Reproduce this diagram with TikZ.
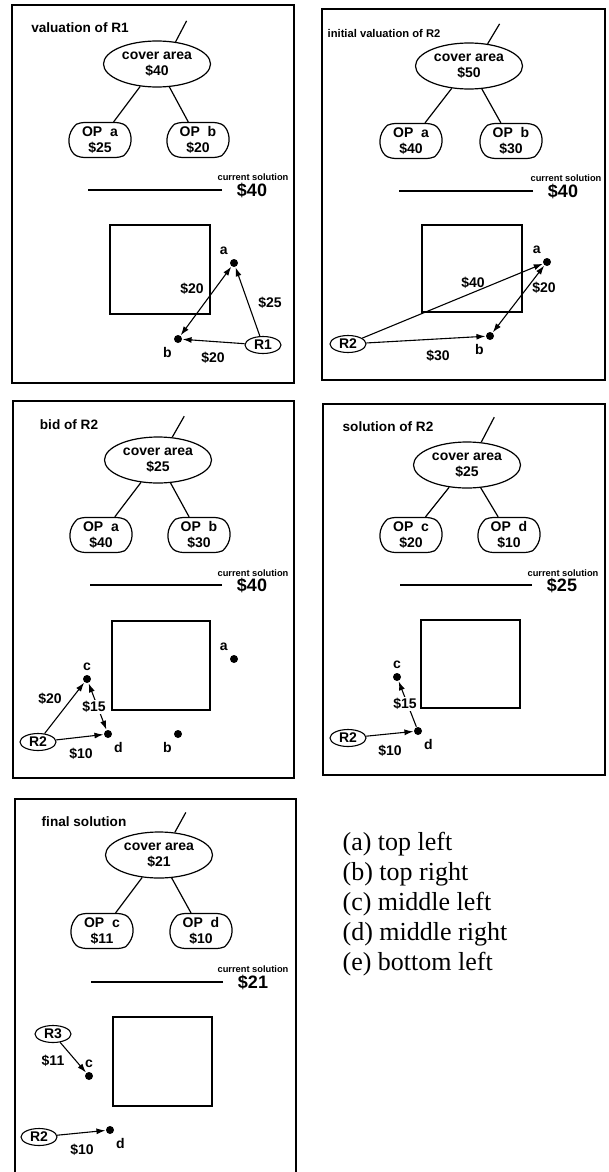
\documentclass[tikz,border=0pt]{standalone}
\usepackage{fontspec}
\setmainfont{Liberation Sans}
\newfontfamily\legendfont{Liberation Serif}
\usetikzlibrary{shapes,arrows.meta}

\tikzset{
  area/.style={draw, ellipse, line width=1.2pt, minimum width=107pt, minimum height=46pt, inner sep=0pt, align=center},
  opbox/.style={draw, rounded rectangle, rounded rectangle arc length=130, rounded corners=4pt, line width=1.2pt, minimum width=64pt, minimum height=35pt, inner sep=1pt, align=center},
  rnode/.style={draw, ellipse, line width=1.1pt, minimum width=36pt, minimum height=17pt, inner sep=0pt},
  dot/.style={circle, fill, inner sep=0pt, minimum size=8pt},
  cur/.style={font=\bfseries\fontsize{9.3}{11}\selectfont},
  sol/.style={font=\bfseries\fontsize{18}{20}\selectfont},
  ttl/.style={font=\bfseries\fontsize{13.6}{16}\selectfont},
  link/.style={line width=1.1pt, ->},
  legend/.style={anchor=base west, inner sep=0pt, font=\legendfont\fontsize{26}{30}\selectfont}
}

\begin{document}
\begin{tikzpicture}[x=1pt, y=-1pt, line width=1.2pt, >={Latex[length=9pt,width=6pt]},
    every node/.append style={font=\bfseries\fontsize{14}{16.5}\selectfont}]
  \useasboundingbox (0,0) rectangle (608,1172);

  % (a) valuation of R1
  \draw[line width=1.4pt] (12,5) rectangle (294,383);
  \node[ttl] (t1) at (80,28) {valuation of R1};
  \node[area] (ca1) at (157,64) {cover area\\\$40};
  \draw (ca1.50) -- ++(11,-21);
  \node[opbox] (opa1) at (100,140) {OP\ \ a\\\$25};
  \node[opbox] (opb1) at (198,140) {OP\ \ b\\\$20};
  \draw (ca1) -- (opa1);
  \draw (ca1) -- (opb1);
  \node[cur] (cs1) at (253,177) {current solution};
  \node[sol] (sol1) at (252,190) {\$40};
  \draw ([xshift=-11pt]sol1.west) -- ++(-134,0);
  \draw (110,225) rectangle (210,314);
  \node[dot, label=120:a] (a1) at (234,263) {};
  \node[dot, label=240:b] (b1) at (178,339) {};
  \node[rnode] (r1) at (263,345) {R1};
  \draw[link, <->] (a1) -- (b1);
  \draw[link] (r1) -- (a1);
  \draw[link] (r1) -- (b1);
  \node at (192,289) {\$20};
  \node at (270,303) {\$25};
  \node at (213,358) {\$20};

  % (b) initial valuation of R2
  \draw[line width=1.4pt] (322,9) rectangle (605,380);
  \node[ttl, font=\bfseries\fontsize{11.2}{13}\selectfont] (t2) at (384,33) {initial valuation of R2};
  \node[area] (ca2) at (469,66) {cover area\\\$50};
  \draw (ca2.50) -- ++(12,-20);
  \node[opbox] (opa2) at (411,141) {OP\ \ a\\\$40};
  \node[opbox] (opb2) at (511,141) {OP\ \ b\\\$30};
  \draw (ca2) -- (opa2);
  \draw (ca2) -- (opb2);
  \node[cur] (cs2) at (566,178) {current solution};
  \node[sol] (sol2) at (563,191) {\$40};
  \draw ([xshift=-11pt]sol2.west) -- ++(-134,0);
  \draw (422,225) rectangle (522,312);
  \node[dot, label=120:a] (a2) at (547,262) {};
  \node[dot, label=240:b] (b2) at (490,336) {};
  \node[rnode] (r2) at (348,344) {R2};
  \draw[link] (r2) -- (a2);
  \draw[link, <->] (a2) -- (b2);
  \draw[link] (r2) -- (b2);
  \node at (473,283) {\$40};
  \node at (544,288) {\$20};
  \node at (438,356) {\$30};

  % (c) bid of R2
  \draw[line width=1.4pt] (13,401) rectangle (294,778);
  \node[ttl] (t3) at (69,425) {bid of R2};
  \node[area] (ca3) at (158,460) {cover area\\\$25};
  \draw (ca3.58) -- ++(12,-21);
  \node[opbox] (opa3) at (101,535) {OP\ \ a\\\$40};
  \node[opbox] (opb3) at (199,535) {OP\ \ b\\\$30};
  \draw (ca3) -- (opa3);
  \draw (ca3) -- (opb3);
  \node[cur] (cs3) at (253,573) {current solution};
  \node[sol] (sol3) at (252,585) {\$40};
  \draw ([xshift=-11pt]sol3.west) -- ++(-132,0);
  \draw (112,621) rectangle (210,710);
  \node[dot, label=120:a] (a3) at (234,659) {};
  \node[dot, label=240:b] (b3) at (178,734) {};
  \node[dot, label=90:c] (c3) at (87,679) {};
  \node[dot, label=300:d] (d3) at (108,734) {};
  \node[rnode] (r3) at (38,742) {R2};
  \draw[link] (r3) -- (c3);
  \draw[link] (r3) -- (d3);
  \draw[link, <->] (c3) -- (d3);
  \node[fill=white, inner sep=1pt] at (94,707) {\$15};
  \node at (50,699) {\$20};
  \node at (81,754) {\$10};

  % (d) solution of R2
  \draw[line width=1.4pt] (323,404) rectangle (605,775);
  \node[ttl] (t4) at (388,427) {solution of R2};
  \node[area] (ca4) at (467,465) {cover area\\\$25};
  \draw (ca4.58) -- ++(13,-25);
  \node[opbox] (opc4) at (411,535) {OP\ \ c\\\$20};
  \node[opbox] (opd4) at (509,535) {OP\ \ d\\\$10};
  \draw (ca4) -- (opc4);
  \draw (ca4) -- (opd4);
  \node[cur] (cs4) at (563,573) {current solution};
  \node[sol] (sol4) at (562,585) {\$25};
  \draw ([xshift=-11pt]sol4.west) -- ++(-132,0);
  \draw (421,620) rectangle (520,708);
  \node[dot, label=90:c] (c4) at (397,677) {};
  \node[dot, label=300:d] (d4) at (418,731) {};
  \node[rnode] (r4) at (348,738) {R2};
  \draw[link] (d4) -- (c4);
  \node[fill=white, inner sep=1pt] at (405,704) {\$15};
  \draw[link] (r4) -- (d4);
  \node at (390,751) {\$10};

  % (e) final solution
  \draw[line width=1.4pt] (15,799) rectangle (296,1180);
  \node[ttl] (t5) at (84,822) {final solution};
  \node[area] (ca5) at (159,855) {cover area\\\$21};
  \draw (ca5.55) -- ++(11,-20);
  \node[opbox] (opc5) at (102,931) {OP\ \ c\\\$11};
  \node[opbox] (opd5) at (201,931) {OP\ \ d\\\$10};
  \draw (ca5) -- (opc5);
  \draw (ca5) -- (opd5);
  \node[cur] (cs5) at (253,969) {current solution};
  \node[sol] (sol5) at (253,982) {\$21};
  \draw ([xshift=-11pt]sol5.west) -- ++(-132,0);
  \draw (113,1017) rectangle (212,1106);
  \node[rnode] (r5) at (53,1034) {R3};
  \node[dot, label=90:c] (c5) at (89,1076) {};
  \node[rnode] (r6) at (39,1137) {R2};
  \node[dot, label=300:d] (d5) at (110,1130) {};
  \draw[link] (r5) -- (c5);
  \draw[link] (r6) -- (d5);
  \node at (53,1061) {\$11};
  \node at (82,1150) {\$10};

  % caption
  \foreach \txt [count=\i] in {{(a) top left},{(b) top right},{(c) middle left},{(d) middle right},{(e) bottom left}}
    \node[legend] (cap\i) at (342,820+30*\i) {\txt};
\end{tikzpicture}
\end{document}
